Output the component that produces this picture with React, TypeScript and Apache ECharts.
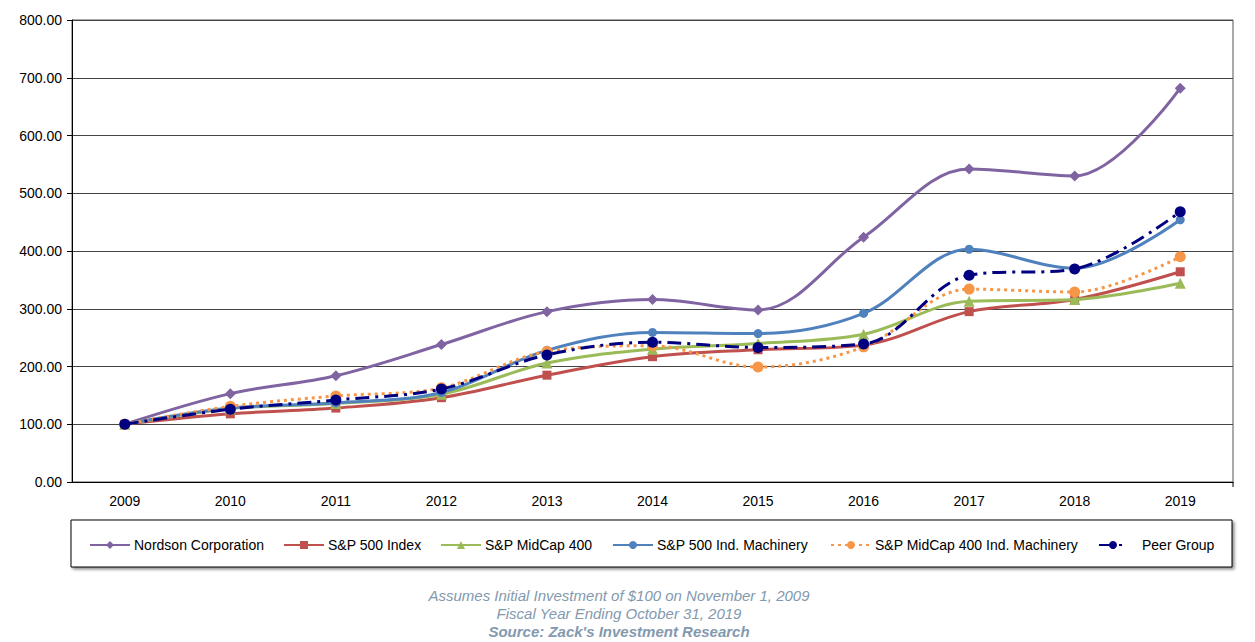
import React, { useEffect, useRef } from "react";
import * as echarts from "echarts";

const years = ["2009", "2010", "2011", "2012", "2013", "2014", "2015", "2016", "2017", "2018", "2019"];
const nordson = [100, 153, 184, 238, 295, 316, 298, 424, 542, 530, 682];
const sp500 = [100, 118, 128, 146, 185, 217, 229, 237, 295, 316, 364];
const midcap400 = [100, 127, 136, 152, 206, 230, 240, 256, 313, 316, 344];
const sp500Mach = [100, 128, 137, 155, 228, 259, 257, 292, 403, 370, 454];
const midcap400Mach = [100, 131, 149, 163, 226, 236, 199, 234, 334, 329, 390];
const peerGroup = [100, 126, 142, 161, 220, 242, 233, 239, 358, 369, 468];

const seriesNames = [
  "Nordson Corporation",
  "S&P 500 Index",
  "S&P MidCap 400",
  "S&P 500 Ind. Machinery",
  "S&P MidCap 400 Ind. Machinery",
  "Peer Group",
];

const footnotes = [
  "Assumes Initial Investment of $100 on November 1, 2009",
  "Fiscal Year Ending October 31, 2019",
  "Source: Zack's Investment Research",
];

const FONT = "'Liberation Sans', Arial, sans-serif";
const legendLefts = [84, 278, 435, 607, 825, 1093];

export default function App() {
  const ref = useRef<HTMLDivElement>(null);
  useEffect(() => {
    if (!ref.current) return;
    const chart = echarts.init(ref.current, undefined, { renderer: "svg" });
    const datas = [nordson, sp500, midcap400, sp500Mach, midcap400Mach, peerGroup];
    const colors = ["#8064A2", "#C0504D", "#9BBB59", "#4F81BD", "#F79646", "#000080"];
    const symbols = ["diamond", "rect", "triangle", "circle", "circle", "circle"];
    const sizes = [11, 9, 11, 9, 11, 11];
    const lineTypes: any[] = ["solid", "solid", "solid", "solid", [3, 4], [14, 6, 3, 6]];
    const series = seriesNames.map((name, i) => ({
      name,
      type: "line",
      data: datas[i],
      smooth: 0.35,
      symbol: symbols[i],
      symbolSize: sizes[i],
      itemStyle: { color: colors[i] },
      lineStyle: { color: colors[i], width: 3, type: lineTypes[i] },
      z: 2 + i,
    }));
    const legends = seriesNames.map((name, i) => ({
      data: [name],
      left: legendLefts[i],
      top: 533,
      itemWidth: i === 5 ? 28 : 40,
      itemHeight: 10,
      itemGap: 0,
      textStyle: {
        fontSize: 14,
        color: "#000",
        fontFamily: FONT,
        padding: i === 5 ? [0, 0, 0, 10] : [0, 0, 0, -1],
      },
    }));
    chart.setOption({
      animation: false,
      backgroundColor: "#fff",
      grid: {
        left: 72,
        right: 22,
        top: 20,
        bottom: 160,
        show: true,
        borderColor: "#555",
        borderWidth: 1,
      },
      legend: legends,
      xAxis: {
        type: "category",
        data: years,
        boundaryGap: true,
        axisLine: { lineStyle: { color: "#000", width: 1 } },
        axisTick: { alignWithLabel: true, length: 5, lineStyle: { color: "#000" } },
        axisLabel: { color: "#000", fontSize: 14, fontFamily: FONT, margin: 12 },
        splitLine: { show: false },
      },
      yAxis: {
        type: "value",
        min: 0,
        max: 800,
        interval: 100,
        axisLine: { show: true, lineStyle: { color: "#000", width: 1 } },
        axisTick: { show: true, length: 5, lineStyle: { color: "#000" } },
        axisLabel: {
          color: "#000",
          fontSize: 14,
          fontFamily: FONT,
          margin: 10,
          formatter: (v: number) => v.toFixed(2),
        },
        splitLine: { lineStyle: { color: "#444", width: 1.2 } },
      },
      series,
      graphic: [
        {
          type: "rect",
          shape: { x: 71, y: 520, width: 1161, height: 47 },
          style: {
            fill: "#fff",
            stroke: "#000",
            lineWidth: 1,
            shadowBlur: 3,
            shadowOffsetX: 2,
            shadowOffsetY: 2,
            shadowColor: "rgba(0,0,0,0.45)",
          },
          z: -10,
        },
        {
          type: "line",
          shape: { x1: 1233, y1: 482, x2: 1233, y2: 487 },
          style: { stroke: "#000", lineWidth: 1 },
        },
        ...footnotes.map((t, i) => ({
          type: "text",
          x: 619,
          y: [595, 613, 631][i],
          style: {
            text: t,
            textAlign: "center",
            textVerticalAlign: "middle",
            font: `italic ${i === 2 ? "bold " : ""}15px ${FONT}`,
            fill: "#8399ae",
          },
        })),
      ],
    });
    return () => chart.dispose();
  }, []);
  return (
    <div
      ref={ref}
      style={{ position: "absolute", left: 0, top: 0, width: 1255, height: 642 }}
    />
  );
}
